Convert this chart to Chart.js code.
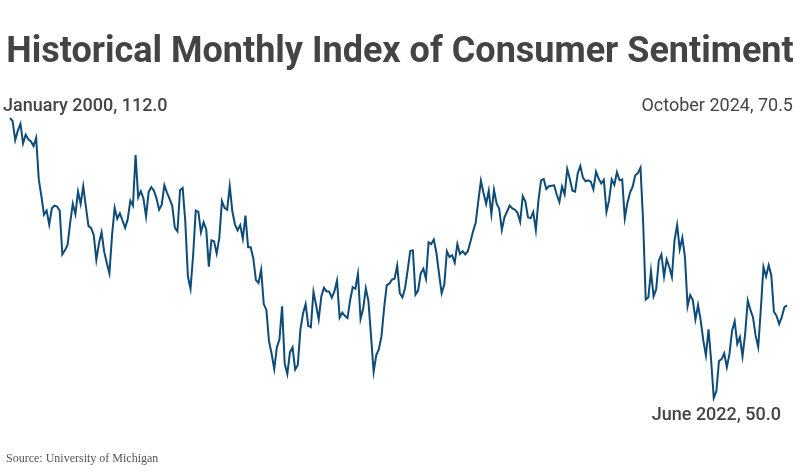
<!DOCTYPE html>
<html>
<head>
<meta charset="utf-8">
<script src="https://cdn.jsdelivr.net/npm/chart.js@4"></script>
<style>
  html, body { margin: 0; padding: 0; background: #fff; }
  #wrap { position: relative; width: 800px; height: 473px; overflow: hidden; font-family: Roboto, sans-serif; color: #444; }
  #chart { position: absolute; left: 0; top: 0; }
  .txt { position: absolute; white-space: nowrap; line-height: 1; }
  #title { left: 0; width: 800px; top: 32px; text-align: center; font-size: 36px; font-weight: 700; }
  #first { left: 3px; top: 96px; font-size: 18px; font-weight: 500; }
  #last { right: 7px; top: 96px; font-size: 18px; }
  #low { right: 19px; top: 405px; font-size: 18px; font-weight: 500; }
  #source { left: 6px; top: 452px; font-size: 12px; font-family: "Liberation Serif", serif; color: #555; }
</style>
</head>
<body>
<div id="wrap">
  <canvas id="chart" width="800" height="473"></canvas>
  <div class="txt" id="title">Historical Monthly Index of Consumer Sentiment</div>
  <div class="txt" id="first">January 2000, 112.0</div>
  <div class="txt" id="last">October 2024, 70.5</div>
  <div class="txt" id="low">June 2022, 50.0</div>
  <div class="txt" id="source">Source: University of Michigan</div>
</div>
<script>
// monthly index values, one array per year
const y2000 = [112.0, 111.3, 107.1, 109.2, 110.7, 106.4, 108.3, 107.3, 106.8, 105.8, 107.6, 98.4]
const y2001 = [94.7, 90.6, 91.5, 88.4, 92.0, 92.6, 92.4, 91.5, 81.8, 82.7, 83.9, 88.8]
const y2002 = [93.0, 90.7, 95.7, 93.0, 96.9, 92.4, 88.1, 87.6, 86.1, 80.6, 84.2, 86.7]
const y2003 = [82.4, 79.9, 77.6, 86.0, 92.1, 89.7, 90.9, 89.3, 87.7, 89.6, 93.7, 92.6]
const y2004 = [103.8, 94.4, 95.8, 94.2, 90.2, 95.6, 96.7, 95.9, 94.2, 91.7, 92.8, 97.1]
const y2005 = [95.5, 94.1, 92.6, 87.7, 86.9, 96.0, 96.5, 89.1, 76.9, 74.2, 81.6, 91.5]
const y2006 = [91.2, 86.7, 88.9, 87.4, 79.1, 84.9, 84.7, 82.0, 85.4, 93.6, 92.1, 91.7]
const y2007 = [96.9, 91.3, 88.4, 87.1, 88.3, 85.3, 90.4, 83.4, 83.4, 80.9, 76.1, 75.5]
const y2008 = [78.4, 70.8, 69.5, 62.6, 59.8, 56.4, 61.2, 63.0, 70.3, 57.6, 55.3, 60.1]
const y2009 = [61.2, 56.3, 57.3, 65.1, 68.7, 70.8, 66.0, 65.7, 73.5, 70.6, 67.4, 72.5]
const y2010 = [74.4, 73.6, 73.6, 72.2, 73.6, 76.0, 67.8, 68.9, 68.2, 67.7, 71.6, 74.5]
const y2011 = [74.2, 77.5, 67.5, 69.8, 74.3, 71.5, 63.7, 55.8, 59.5, 60.8, 63.7, 69.9]
const y2012 = [75.0, 75.3, 76.2, 76.4, 79.3, 73.2, 72.3, 74.3, 78.3, 82.6, 82.7, 72.9]
const y2013 = [73.8, 77.6, 78.6, 76.4, 84.5, 84.1, 85.1, 82.1, 77.5, 73.2, 75.1, 82.5]
const y2014 = [81.2, 81.6, 80.0, 84.1, 81.9, 82.5, 81.8, 82.5, 84.6, 86.9, 88.8, 93.6]
const y2015 = [98.1, 95.4, 93.0, 95.9, 90.7, 96.1, 93.1, 91.9, 87.2, 90.0, 91.3, 92.6]
const y2016 = [92.0, 91.7, 91.0, 89.0, 94.7, 93.5, 90.0, 89.8, 91.2, 87.2, 93.8, 98.2]
const y2017 = [98.5, 96.3, 96.9, 97.0, 97.1, 95.0, 93.4, 96.8, 95.1, 100.7, 98.5, 95.9]
const y2018 = [95.7, 99.7, 101.4, 98.8, 98.0, 98.2, 97.9, 96.2, 100.1, 98.6, 97.5, 98.3]
const y2019 = [91.2, 93.8, 98.4, 97.2, 100.0, 98.2, 98.4, 89.8, 93.2, 95.5, 96.8, 99.3]
const y2020 = [99.8, 101.0, 89.1, 71.8, 72.3, 78.1, 72.5, 74.1, 80.4, 81.8, 76.9, 80.7]
const y2021 = [79.0, 76.8, 84.9, 88.3, 82.9, 85.5, 81.2, 70.3, 72.8, 71.7, 67.4, 70.6]
const y2022 = [67.2, 62.8, 59.4, 65.2, 58.4, 50.0, 51.5, 58.2, 58.6, 59.9, 56.8, 59.7]
const y2023 = [64.9, 67.0, 62.0, 63.5, 59.2, 64.2, 71.6, 69.5, 67.9, 63.8, 61.3, 69.7]
const y2024 = [79.0, 76.9, 79.4, 77.2, 69.1, 68.2, 66.4, 67.9, 70.1, 70.5]

const years = [y2000, y2001, y2002, y2003, y2004, y2005, y2006, y2007, y2008, y2009,
  y2010, y2011, y2012, y2013, y2014, y2015, y2016, y2017, y2018, y2019,
  y2020, y2021, y2022, y2023, y2024]
const monthNames = ['Jan', 'Feb', 'Mar', 'Apr', 'May', 'Jun', 'Jul', 'Aug', 'Sep', 'Oct', 'Nov', 'Dec']

const values = []
const labels = []
years.forEach((yr, i) => {
  yr.forEach((v, m) => {
    values.push(v)
    labels.push(monthNames[m] + ' ' + (2000 + i))
  })
})

new Chart(document.getElementById('chart'), {
  type: 'line',
  data: {
    labels: labels,
    datasets: [{
      data: values,
      borderColor: '#0d4b78',
      borderWidth: 2,
      pointRadius: 0,
      tension: 0,
      fill: false,
      clip: false
    }]
  },
  options: {
    responsive: false,
    animation: false,
    layout: { padding: { left: 10, right: 13, top: 118, bottom: 75 } },
    scales: {
      x: { display: false },
      y: { display: false, min: 50, max: 112 }
    },
    plugins: {
      legend: { display: false },
      tooltip: { enabled: false }
    }
  }
})
</script>
</body>
</html>
